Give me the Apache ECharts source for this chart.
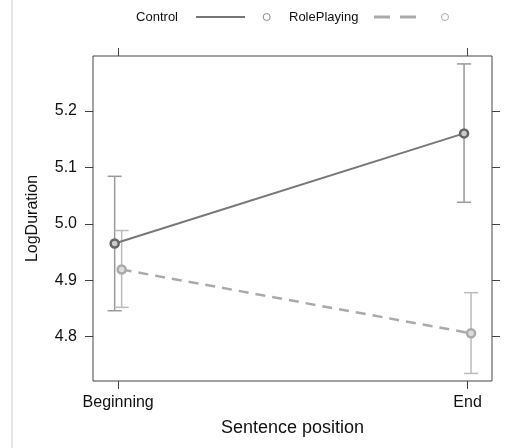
<!DOCTYPE html>
<html><head><meta charset="utf-8">
<script src="https://cdn.jsdelivr.net/npm/echarts@6/dist/echarts.min.js"></script>
<style>html,body{margin:0;padding:0;background:#fff}#c{width:507px;height:448px}</style>
</head><body><div id="c"></div>
<script>
var categories = ['Beginning', 'End'];
var seriesNames = ['Control', 'RolePlaying'];
var controlMean = [4.965, 5.160];
var controlLow = [4.846, 5.038];
var controlHigh = [5.084, 5.283];
var rpMean = [4.919, 4.806];
var rpLow = [4.852, 4.735];
var rpHigh = [4.988, 4.878];
var yTicks = [4.8, 4.9, 5.0, 5.1, 5.2];

var dodge = 0.01;
var catPos = categories.map(function (c, i) { return i; });
function pts(mean, off) { return mean.map(function (v, i) { return [i + off, v]; }); }
function errs(lo, hi, off) { return lo.map(function (v, i) { return [i + off, v, hi[i]]; }); }

function errRender(color) {
  return function (params, api) {
    var x = api.value(0), lo = api.value(1), hi = api.value(2);
    var a = api.coord([x, lo]), b = api.coord([x, hi]);
    var hw = 7;
    var st = { stroke: color, lineWidth: 1.5 };
    return { type: 'group', children: [
      { type: 'line', shape: { x1: a[0], y1: a[1], x2: b[0], y2: b[1] }, style: st },
      { type: 'line', shape: { x1: a[0] - hw, y1: a[1], x2: a[0] + hw, y2: a[1] }, style: st },
      { type: 'line', shape: { x1: b[0] - hw, y1: b[1], x2: b[0] + hw, y2: b[1] }, style: st }
    ]};
  };
}

var axisCol = '#444';
var font = 'Liberation Sans, Arial, Helvetica, sans-serif';
var chart = echarts.init(document.getElementById('c'));
var xMin = -0.072, xMax = 1.07, yMin = 4.7216, yMax = 5.297;
var noLine = { show: false, onZero: false };
chart.setOption({
  animation: false,
  grid: { left: 93, top: 56, right: 15, bottom: 67, show: true, borderColor: axisCol, borderWidth: 1 },
  xAxis: [{
    type: 'value', min: xMin, max: xMax, position: 'bottom',
    name: 'Sentence position', nameLocation: 'middle', nameGap: 38,
    nameTextStyle: { fontFamily: font, fontSize: 18, color: '#111' },
    axisLine: noLine, splitLine: { show: false },
    axisTick: { show: true, inside: false, length: 8, customValues: catPos, lineStyle: { color: axisCol } },
    axisLabel: { customValues: catPos, margin: 14, fontFamily: font, fontSize: 16, color: '#111',
      formatter: function (v) { return categories[Math.round(v)]; } }
  }, {
    type: 'value', min: xMin, max: xMax, position: 'top',
    axisLine: noLine, splitLine: { show: false },
    axisTick: { show: true, inside: false, length: 8, customValues: catPos, lineStyle: { color: axisCol } },
    axisLabel: { show: false, customValues: catPos }
  }],
  yAxis: [{
    type: 'value', min: yMin, max: yMax, position: 'left',
    name: 'LogDuration', nameLocation: 'middle', nameGap: 52,
    nameTextStyle: { fontFamily: font, fontSize: 16, color: '#111' },
    axisLine: noLine, splitLine: { show: false },
    axisTick: { show: true, inside: false, length: 8, customValues: yTicks, lineStyle: { color: axisCol } },
    axisLabel: { customValues: yTicks, margin: 16, fontFamily: font, fontSize: 16, color: '#111',
      formatter: function (v) { return v.toFixed(1); } }
  }, {
    type: 'value', min: yMin, max: yMax, position: 'right',
    axisLine: noLine, splitLine: { show: false },
    axisTick: { show: true, inside: false, length: 8, customValues: yTicks, lineStyle: { color: axisCol } },
    axisLabel: { show: false, customValues: yTicks }
  }],
  series: [
    { type: 'custom', renderItem: errRender('#999'), data: errs(controlLow, controlHigh, -dodge), z: 1 },
    { type: 'custom', renderItem: errRender('#bbb'), data: errs(rpLow, rpHigh, dodge), z: 1 },
    { name: seriesNames[0], type: 'line', data: pts(controlMean, -dodge), z: 3,
      lineStyle: { color: '#777', width: 2 }, symbol: 'circle', symbolSize: 8,
      itemStyle: { color: '#ccc', borderColor: '#666', borderWidth: 2.5 } },
    { name: seriesNames[1], type: 'line', data: pts(rpMean, dodge), z: 2,
      lineStyle: { color: '#aaa', width: 2.5, type: [10, 7] }, symbol: 'circle', symbolSize: 8,
      itemStyle: { color: '#ddd', borderColor: '#aaa', borderWidth: 2.5 } }
  ],
  graphic: [
    { type: 'line', shape: { x1: 12, y1: 0, x2: 12, y2: 448 }, style: { stroke: '#ccc', lineWidth: 1 } },
    { type: 'text', x: 178, y: 17, style: { text: seriesNames[0], font: '13px ' + font, fill: '#111', align: 'right', verticalAlign: 'middle' } },
    { type: 'line', shape: { x1: 196, y1: 17, x2: 245, y2: 17 }, style: { stroke: '#777', lineWidth: 2 } },
    { type: 'circle', shape: { cx: 266.7, cy: 17, r: 3.5 }, style: { fill: '#fff', stroke: '#888', lineWidth: 1 } },
    { type: 'text', x: 289, y: 17, style: { text: seriesNames[1], font: '13px ' + font, fill: '#111', align: 'left', verticalAlign: 'middle' } },
    { type: 'line', shape: { x1: 374, y1: 17, x2: 416, y2: 17 }, style: { stroke: '#aaa', lineWidth: 3, lineDash: [16, 10] } },
    { type: 'circle', shape: { cx: 445, cy: 17, r: 3.5 }, style: { fill: '#fff', stroke: '#aaa', lineWidth: 1 } }
  ]
});
</script></body></html>
